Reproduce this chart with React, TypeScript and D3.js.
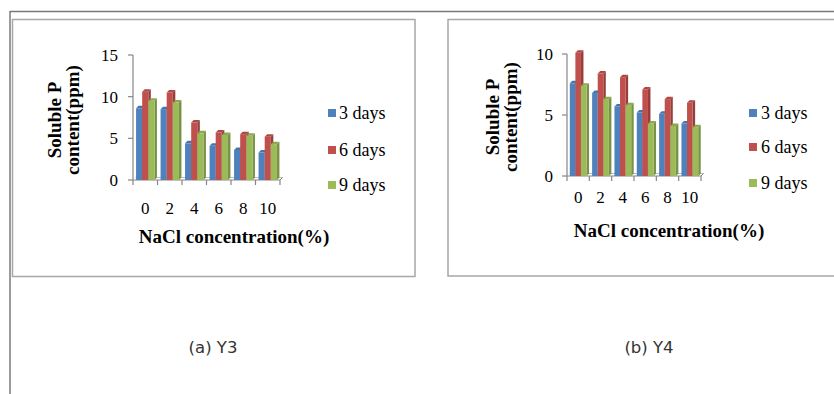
import React from "react";
import * as d3 from "d3";

const categories = ["0", "2", "4", "6", "8", "10"];
const seriesNames = ["3 days", "6 days", "9 days"];
const seriesColors = ["#4F81BD", "#C0504D", "#9BBB59"];

const y3Days3 = [8.6, 8.5, 4.4, 4.1, 3.6, 3.3];
const y3Days6 = [10.6, 10.5, 6.9, 5.7, 5.5, 5.2];
const y3Days9 = [9.5, 9.3, 5.6, 5.4, 5.3, 4.3];
const y3Ticks = [0, 5, 10, 15];

const y4Days3 = [7.6, 6.8, 5.7, 5.2, 5.1, 4.3];
const y4Days6 = [10.1, 8.4, 8.1, 7.1, 6.3, 6.0];
const y4Days9 = [7.4, 6.3, 5.8, 4.3, 4.1, 4.0];
const y4Ticks = [0, 5, 10];

const xTitle = "NaCl concentration(%)";
const yTitle1 = "Soluble P";
const yTitle2 = "content(ppm)";

type Layout = {
  axisX: number;
  xEnd: number;
  y0: number;
  yTop: number;
  yMax: number;
  tickLabelRight: number;
  xLabelBase: number;
  xTitleX: number;
  xTitleBase: number;
  yT1x: number;
  yT2x: number;
  yTcy: number;
  legSqX: number;
  legTextX: number;
  legRows: number[];
};

const serif = "'Liberation Serif', 'Times New Roman', serif";

function shade(c: string, k: number) {
  const col = d3.color(c)!;
  return k > 0 ? col.brighter(k).formatHex() : col.darker(-k).formatHex();
}

function Chart({ data, ticks, L }: { data: number[][]; ticks: number[]; L: Layout }) {
  const x = d3
    .scaleBand<string>()
    .domain(categories)
    .range([L.axisX, L.xEnd])
    .paddingInner(0.25)
    .paddingOuter(0.125);
  const xs = d3
    .scaleBand<string>()
    .domain(seriesNames)
    .range([0, x.bandwidth()]);
  const y = d3.scaleLinear().domain([0, L.yMax]).range([L.y0, L.yTop]);
  const dx = 2.5;
  const dy = -2.5;
  const step = x.step();
  const bounds = d3.range(categories.length + 1).map((i) => L.axisX + i * step);
  const axisColor = "#868686";

  return (
    <g>
      {/* floor */}
      <line x1={L.axisX} x2={L.xEnd} y1={L.y0} y2={L.y0} stroke={axisColor} strokeWidth={1.2} />
      <line x1={L.axisX + dx} x2={L.xEnd + dx} y1={L.y0 + dy} y2={L.y0 + dy} stroke="#bdbdbd" strokeWidth={1} />
      <line x1={L.xEnd} x2={L.xEnd + dx} y1={L.y0} y2={L.y0 + dy} stroke={axisColor} strokeWidth={1} />
      {/* y axis */}
      <line x1={L.axisX} x2={L.axisX} y1={L.y0} y2={y(L.yMax)} stroke={axisColor} strokeWidth={1.2} />
      {ticks.map((t) => (
        <g key={t}>
          <line x1={L.axisX - 5} x2={L.axisX} y1={y(t)} y2={y(t)} stroke={axisColor} strokeWidth={1.2} />
          <text
            x={L.tickLabelRight}
            y={y(t) + 6}
            textAnchor="end"
            fontFamily={serif}
            fontSize={17}
            fill="#000"
          >
            {t}
          </text>
        </g>
      ))}
      {bounds.map((b, i) => (
        <line key={i} x1={b} x2={b} y1={L.y0} y2={L.y0 + 5} stroke={axisColor} strokeWidth={1.2} />
      ))}
      {/* bars */}
      {categories.map((c, ci) => (
        <g key={c}>
          {seriesNames.map((s, si) => {
            const v = data[si][ci];
            const bx = (x(c) as number) + (xs(s) as number);
            const bw = xs.bandwidth();
            const top = y(v);
            const col = seriesColors[si];
            return (
              <g key={s}>
                <polygon
                  points={`${bx + bw},${top} ${bx + bw + dx},${top + dy} ${bx + bw + dx},${L.y0 + dy} ${bx + bw},${L.y0}`}
                  fill={shade(col, -0.7)}
                />
                <polygon
                  points={`${bx},${top} ${bx + dx},${top + dy} ${bx + bw + dx},${top + dy} ${bx + bw},${top}`}
                  fill={shade(col, -0.3)}
                />
                <rect x={bx} y={top} width={bw} height={L.y0 - top} fill={col} />
              </g>
            );
          })}
          <text
            x={(x(c) as number) + x.bandwidth() / 2}
            y={L.xLabelBase}
            textAnchor="middle"
            fontFamily={serif}
            fontSize={17}
            fill="#000"
          >
            {c}
          </text>
        </g>
      ))}
      {/* titles */}
      <text x={L.xTitleX} y={L.xTitleBase} textAnchor="middle" fontFamily={serif} fontSize={19} fontWeight="bold" fill="#000">
        {xTitle}
      </text>
      <text
        transform={`translate(${L.yT1x},${L.yTcy}) rotate(-90)`}
        textAnchor="middle"
        fontFamily={serif}
        fontSize={19}
        fontWeight="bold"
        fill="#000"
      >
        {yTitle1}
      </text>
      <text
        transform={`translate(${L.yT2x},${L.yTcy}) rotate(-90)`}
        textAnchor="middle"
        fontFamily={serif}
        fontSize={19}
        fontWeight="bold"
        fill="#000"
      >
        {yTitle2}
      </text>
      {/* legend */}
      {seriesNames.map((s, i) => (
        <g key={s}>
          <rect x={L.legSqX} y={L.legRows[i] - 4} width={8} height={8} fill={seriesColors[i]} />
          <text x={L.legTextX} y={L.legRows[i] + 6} fontFamily={serif} fontSize={18} fill="#000">
            {s}
          </text>
        </g>
      ))}
    </g>
  );
}

const layout1: Layout = {
  axisX: 133,
  xEnd: 280,
  y0: 180,
  yTop: 55,
  yMax: 15,
  tickLabelRight: 118,
  xLabelBase: 214,
  xTitleX: 234,
  xTitleBase: 243,
  yT1x: 61,
  yT2x: 79,
  yTcy: 120,
  legSqX: 328,
  legTextX: 339,
  legRows: [113, 150, 185],
};

const layout2: Layout = {
  axisX: 567,
  xEnd: 701,
  y0: 176,
  yTop: 54,
  yMax: 10,
  tickLabelRight: 553,
  xLabelBase: 203,
  xTitleX: 669,
  xTitleBase: 237,
  yT1x: 499,
  yT2x: 517,
  yTcy: 117,
  legSqX: 749,
  legTextX: 761,
  legRows: [113, 147, 183],
};

export default function App() {
  return (
    <svg
      width={834}
      height={394}
      style={{ position: "absolute", left: 0, top: 0, background: "#fff" }}
    >
      <rect x={0} y={0} width={834} height={394} fill="#fff" />
      <line x1={10} x2={834} y1={11.5} y2={11.5} stroke="#7a7a7a" strokeWidth={1.5} />
      <line x1={10} x2={10} y1={11} y2={394} stroke="#7a7a7a" strokeWidth={1.5} />
      <rect x={12.5} y={19.5} width={402.5} height={257} fill="none" stroke="#a6a6a6" strokeWidth={1.5} />
      <rect x={448} y={19.5} width={400} height={256.5} fill="none" stroke="#a6a6a6" strokeWidth={1.5} />
      <Chart data={[y3Days3, y3Days6, y3Days9]} ticks={y3Ticks} L={layout1} />
      <Chart data={[y4Days3, y4Days6, y4Days9]} ticks={y4Ticks} L={layout2} />
      <text x={213} y={353} textAnchor="middle" fontFamily="'DejaVu Sans', sans-serif" fontSize={16.5} fill="#333">
        (a) Y3
      </text>
      <text x={649} y={353} textAnchor="middle" fontFamily="'DejaVu Sans', sans-serif" fontSize={16.5} fill="#333">
        (b) Y4
      </text>
    </svg>
  );
}
